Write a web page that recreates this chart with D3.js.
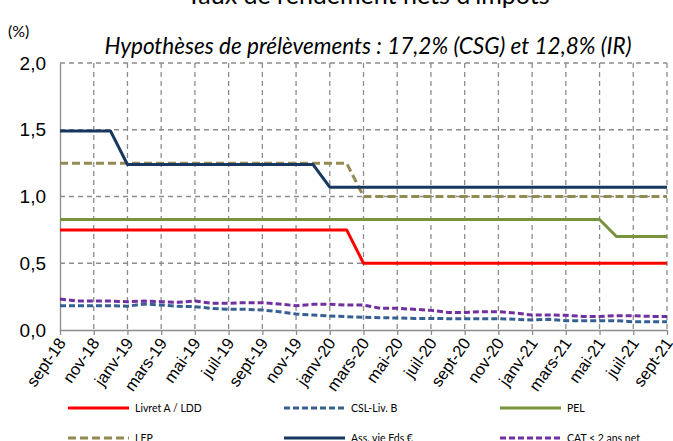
<!DOCTYPE html>
<html lang="fr">
  <head>
    <meta charset="utf-8">
    <title>Taux de rendement nets d'impôts</title>
    <style>
      body { margin: 0; background: #fff; }
      svg { display: block; font-family: Lato, "Open Sans", sans-serif; }
      .grid line { stroke: #8c8c8c; stroke-width: 1.3; stroke-dasharray: 5,4; }
      .axis line, .axis path { stroke: #8c8c8c; stroke-width: 1.3; }
      .serie { fill: none; stroke-width: 3; stroke-linejoin: round; }
    </style>
  </head>
  <body>
    <svg id="chart" width="673" height="441"></svg>

    <script src="https://cdn.jsdelivr.net/npm/d3@7"></script>
    <script>
      // months, sept-18 .. sept-21
      var months = ["sept-18","oct-18","nov-18","déc-18","janv-19","févr-19","mars-19","avr-19","mai-19","juin-19",
                    "juil-19","août-19","sept-19","oct-19","nov-19","déc-19","janv-20","févr-20","mars-20","avr-20",
                    "mai-20","juin-20","juil-20","août-20","sept-20","oct-20","nov-20","déc-20","janv-21","févr-21",
                    "mars-21","avr-21","mai-21","juin-21","juil-21","août-21","sept-21"];

      var livretA = [0.75,0.75,0.75,0.75,0.75,0.75,0.75,0.75,0.75,0.75,0.75,0.75,0.75,0.75,0.75,0.75,0.75,0.75,
                     0.5,0.5,0.5,0.5,0.5,0.5,0.5,0.5,0.5,0.5,0.5,0.5,0.5,0.5,0.5,0.5,0.5,0.5,0.5];
      var cslLivB = [0.182,0.182,0.182,0.182,0.178,0.195,0.187,0.177,0.175,0.162,0.155,0.155,0.150,0.137,0.120,0.112,
                     0.105,0.100,0.095,0.092,0.090,0.087,0.087,0.085,0.085,0.085,0.085,0.080,0.075,0.080,0.070,0.070,
                     0.070,0.070,0.062,0.062,0.062];
      var pel = [0.828,0.828,0.828,0.828,0.828,0.828,0.828,0.828,0.828,0.828,0.828,0.828,0.828,0.828,0.828,0.828,
                 0.828,0.828,0.828,0.828,0.828,0.828,0.828,0.828,0.828,0.828,0.828,0.828,0.828,0.828,0.828,0.828,
                 0.828,0.70,0.70,0.70,0.70];
      var lep = [1.25,1.25,1.25,1.25,1.25,1.25,1.25,1.25,1.25,1.25,1.25,1.25,1.25,1.25,1.25,1.25,1.25,1.25,
                 1.0,1.0,1.0,1.0,1.0,1.0,1.0,1.0,1.0,1.0,1.0,1.0,1.0,1.0,1.0,1.0,1.0,1.0,1.0];
      var assVie = [1.49,1.49,1.49,1.49,1.24,1.24,1.24,1.24,1.24,1.24,1.24,1.24,1.24,1.24,1.24,1.24,
                    1.07,1.07,1.07,1.07,1.07,1.07,1.07,1.07,1.07,1.07,1.07,1.07,1.07,1.07,1.07,1.07,1.07,1.07,1.07,1.07,1.07];
      var cat = [0.232,0.217,0.217,0.217,0.212,0.217,0.212,0.207,0.217,0.200,0.200,0.205,0.205,0.195,0.182,0.192,
                 0.192,0.187,0.187,0.162,0.162,0.155,0.147,0.132,0.132,0.137,0.137,0.127,0.112,0.112,0.110,0.102,
                 0.102,0.107,0.107,0.102,0.102];

      var yTicks = [0, 0.5, 1, 1.5, 2];

      var series = [
        {name: "Livret A / LDD",   values: livretA, color: "#ff0000", dash: null},
        {name: "CSL-Liv. B",       values: cslLivB, color: "#376092", dash: "6,3"},
        {name: "PEL",              values: pel,     color: "#77933c", dash: null},
        {name: "LEP",              values: lep,     color: "#948a54", dash: "8,4"},
        {name: "Ass. vie Fds €",   values: assVie,  color: "#17375e", dash: null},
        {name: "CAT < 2 ans net",  values: cat,     color: "#7030a0", dash: "6,3"}
      ];

      var svg = d3.select("#chart");
      var plot = {left: 60, right: 667, top: 63, bottom: 330};

      var x = d3.scalePoint().domain(months).range([plot.left, plot.right]);
      var y = d3.scaleLinear().domain([0, 2]).range([plot.bottom, plot.top]);
      var tickMonths = months.filter(function(d, i) { return i % 2 === 0; });
      var fmt = function(d) { return d3.format(".1f")(d).replace(".", ","); };

      // titles
      svg.append("text").attr("x", 368).attr("y", 4).attr("text-anchor", "middle")
        .style("font-size", "25px").text("Taux de rendement nets d'impôts");
      svg.append("text").attr("x", 8).attr("y", 37).style("font-size", "16px").text("(%)");
      svg.append("text").attr("x", 368).attr("y", 54).attr("text-anchor", "middle")
        .style("font-size", "22.5px").style("font-style", "italic")
        .text("Hypothèses de prélèvements : 17,2% (CSG) et 12,8% (IR)");

      // grid
      var grid = svg.append("g").attr("class", "grid");
      grid.selectAll("line.h").data(yTicks.filter(function(d) { return d > 0; })).enter()
        .append("line").attr("x1", plot.left).attr("x2", plot.right)
        .attr("y1", function(d) { return y(d); }).attr("y2", function(d) { return y(d); });
      grid.selectAll("line.v").data(tickMonths.slice(1)).enter()
        .append("line").attr("y1", plot.top).attr("y2", plot.bottom)
        .attr("x1", function(d) { return x(d); }).attr("x2", function(d) { return x(d); });

      // axes
      var yAxis = svg.append("g").attr("class", "axis").attr("transform", "translate(" + plot.left + ",0)")
        .call(d3.axisLeft(y).tickValues(yTicks).tickSize(0).tickPadding(14).tickFormat(fmt));
      yAxis.selectAll("text").style("font-size", "19px").style("fill", "#000");

      var xAxis = svg.append("g").attr("class", "axis").attr("transform", "translate(0," + plot.bottom + ")")
        .call(d3.axisBottom(x).tickValues(tickMonths).tickSize(5).tickSizeOuter(0));
      xAxis.selectAll("text")
        .style("font-size", "16.5px").style("fill", "#000")
        .attr("text-anchor", "end")
        .attr("dy", null).attr("y", 0)
        .attr("transform", "translate(6,13) rotate(-55)");

      // lines
      var line = d3.line()
        .x(function(d, i) { return x(months[i]); })
        .y(function(d) { return y(d); });

      var order = [2, 0, 3, 4, 1, 5];
      order.forEach(function(k) {
        var s = series[k];
        svg.append("path").attr("class", "serie")
          .attr("d", line(s.values))
          .attr("stroke", s.color)
          .attr("stroke-dasharray", s.dash);
      });

      // legend
      var legX = [68, 284, 500], legY = [408, 438];
      var leg = svg.selectAll("g.leg").data(series).enter().append("g")
        .attr("transform", function(d, i) { return "translate(" + legX[i % 3] + "," + legY[Math.floor(i / 3)] + ")"; });
      leg.append("line").attr("x1", 0).attr("x2", 61).attr("y1", 0).attr("y2", 0)
        .attr("stroke", function(d) { return d.color; }).attr("stroke-width", 3)
        .attr("stroke-dasharray", function(d) { return d.dash; });
      leg.append("text").attr("x", 67).attr("y", 4).style("font-size", "10.5px")
        .text(function(d) { return d.name; });
    </script>
  </body>
</html>
